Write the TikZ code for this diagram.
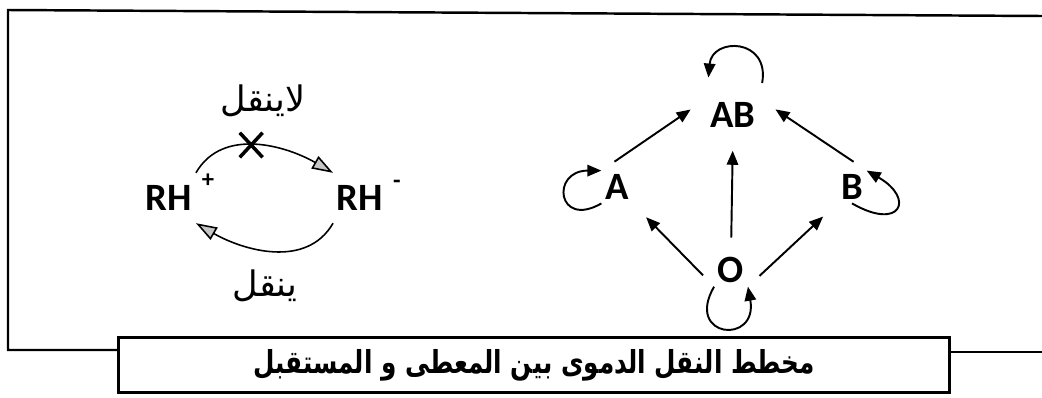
\documentclass[tikz,border=0pt]{standalone}
\usepackage{fontspec}
\setsansfont{Carlito}
\newfontfamily\arabicfont[Script=Arabic]{DejaVu Sans}
\TeXXeTstate=1
\usetikzlibrary{arrows.meta,shapes.misc}

\begin{document}
\begin{tikzpicture}[x=0.02cm,y=0.02cm,
  species/.style={font=\fontsize{22}{26}\selectfont\sffamily\bfseries,inner sep=2pt},
  rh/.style={species,inner ysep=7pt},
  charge/.style={font=\fontsize{14}{16}\selectfont\sffamily\bfseries,inner sep=0pt},
  arlabel/.style={font=\fontsize{20}{24}\selectfont\arabicfont},
  flow/.style={line width=1.1pt,-{Triangle[length=8pt,width=6.5pt]},shorten <=9pt,shorten >=11pt},
  self/.style={line width=1.1pt,-{Triangle[length=8pt,width=6.5pt]}},
  swap/.style={line width=0.9pt,-{Triangle[length=12pt,width=8pt,fill=gray!45]}},
  frame/.style={line width=1.4pt},
  capbox/.style={draw,line width=1.4pt,minimum width=16.62cm,minimum height=1.1cm,inner sep=0pt,
    font=\fontsize{18}{22}\selectfont\arabicfont\bfseries}]
\useasboundingbox (0,0) rectangle (1042,397);
% caption and frame
\node[capbox] (cap) at (534,32) {\scalebox{0.78}[1]{\beginR مخطط النقل الدموى بين المعطى و المستقبل\endR}};
\draw[frame] (1042,381) -- (8,387) -- (8,47) -- (cap.west |- 0,47);
\draw[frame] (cap.east |- 0,45) -- (1042,45);
% left: RH+ / RH-
\node[rh] (RHp) at (169,199) {RH};
\node[rh] (RHm) at (360,199) {RH};
\node[charge] (plus) at (208,216) {+};
\node[charge] (minus) at (397,213) {-};
\draw[swap] (RHp.north east) to[out=60,in=150] node[pos=0.46,cross out,draw,line width=2pt,
  minimum width=11pt,minimum height=12pt,inner sep=0pt] (block) {} (RHm.north west);
\draw[swap] (RHm.south west) to[out=-120,in=-30] (RHp.south east);
\node[arlabel] (no) at (263,296) {\beginR لاينقل\endR};
\node[arlabel] (yes) at (265,111) {\beginR ينقل\endR};
% right: A, B, AB, O
\node[species] (AB) at (733,282) {AB};
\node[species] (A) at (617,210) {A};
\node[species] (B) at (852,210) {B};
\node[species] (O) at (731,127) {O};
\draw[flow] (A.north west) -- (AB.north west);
\draw[flow] (B.north east) -- (AB.north east);
\draw[flow] (O.north) -- (AB.south);
\draw[flow] (O.south west) -- (A.south east);
\draw[flow] (O.south east) -- (B.south west);
\draw[self,shorten <=9pt,shorten >=12pt] (AB.north east) to[out=80,in=85,looseness=3] (AB.north west);
\draw[self] (A.south west) to[out=210,in=180,looseness=4] (A.north west);
\draw[self] (B.south) to[out=-30,in=-30,looseness=4] (B.north east);
\draw[self] (O.south west) to[out=240,in=-80,looseness=4.5] (O.south east);
\end{tikzpicture}
\end{document}
